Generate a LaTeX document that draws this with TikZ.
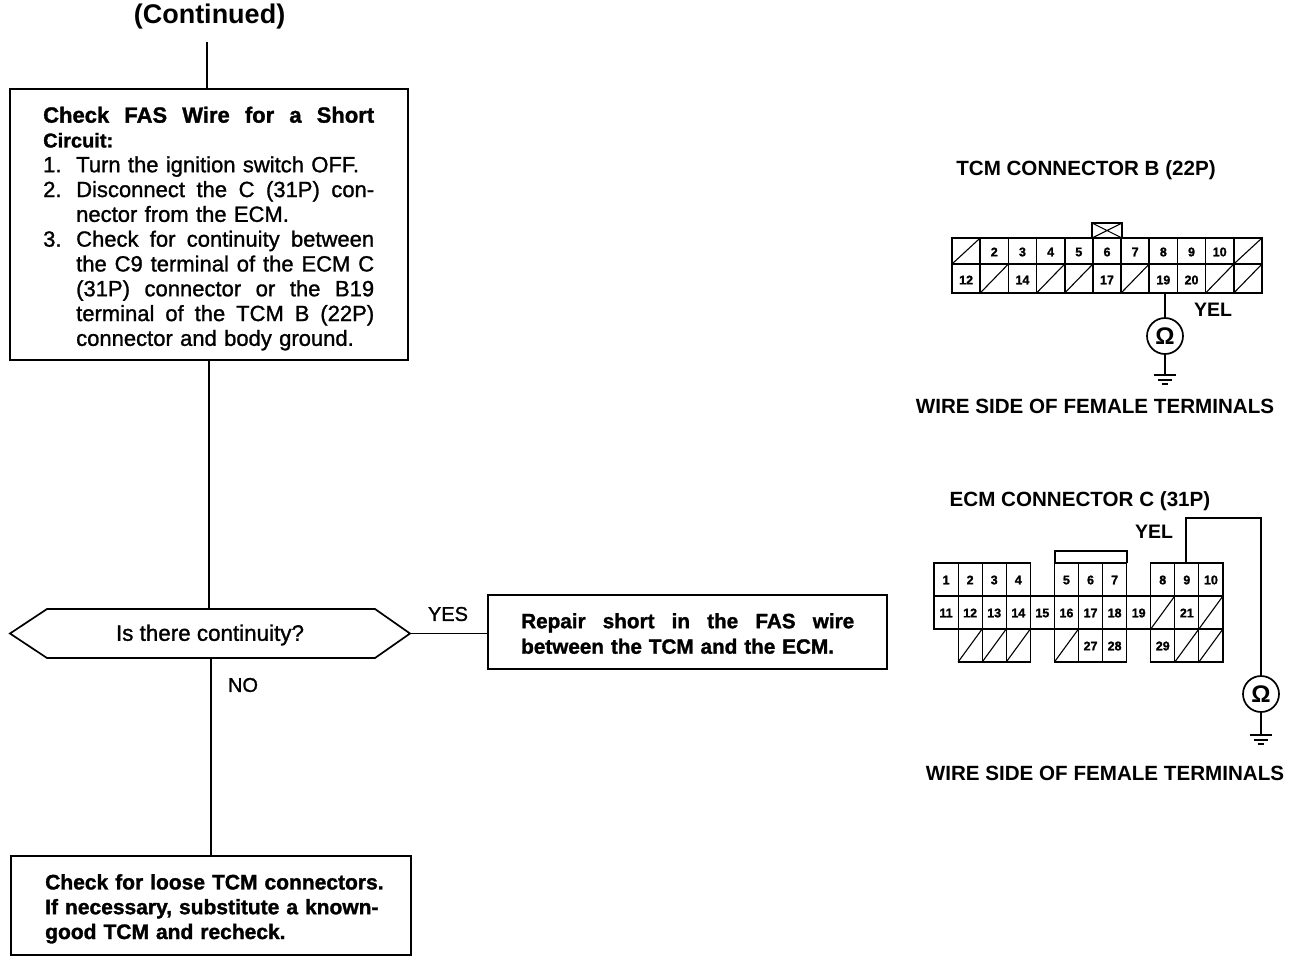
\documentclass[tikz,border=0pt]{standalone}
\usepackage{fontspec}
\setmainfont{Liberation Sans}
\newfontfamily\midf[FakeBold=1.2]{Liberation Sans}
\newfontfamily\hvy[FakeBold=1.4]{Liberation Sans Bold}
\newcommand\jl[1]{\leavevmode\hbox to 331pt{#1}}
\newcommand\il[2]{\leavevmode\hbox to 33pt{#1\hss}\hbox to 298pt{#2}}
\newcommand\ir[2]{\leavevmode\hbox to 33pt{#1\hss}#2}
\usetikzlibrary{calc}
\tikzset{
  x=1pt,y=-1pt,
  ln/.style={line width=1.7pt,black},
  thin cell/.style={line width=1.1pt,black},
  bx/.style={draw,line width=1.7pt,inner sep=0pt,align=left,anchor=center},
  lab/.style={font=\fontsize{20.6}{20.6}\selectfont\bfseries,inner sep=0pt},
  yl/.style={font=\fontsize{19.5}{19.5}\selectfont\bfseries,inner sep=0pt},
  num/.style={font=\fontsize{12.5}{12.5}\selectfont\hvy,inner sep=0pt},
  meter/.style={circle,draw,line width=1.7pt,minimum size=36pt,inner sep=0pt,font=\fontsize{24}{24}\selectfont\bfseries},
}
\newcommand\gnd[1]{%
  \draw[ln] ($(#1)+(-11,0)$) -- ($(#1)+(11,0)$);
  \draw[ln] ($(#1)+(-7,5)$) -- ($(#1)+(7,5)$);
  \draw[ln] ($(#1)+(-3,9)$) -- ($(#1)+(3,9)$);}
\begin{document}
\begin{tikzpicture}
\useasboundingbox (0,0) rectangle (1296,962);
\fill[white] (0,0) rectangle (1296,962);
% flowchart
\node[inner sep=0pt,font=\fontsize{27}{27}\selectfont\bfseries] (cont) at (209.5,17) {(Continued)};
\node[bx,minimum width=398pt,minimum height=271pt] (box1) at (209,224.5) {};
\node[inner sep=0pt,anchor=north west,text width=331pt,align=left,font=\fontsize{22}{24.8}\selectfont] (box1t) at (43,106.5) {%
  \jl{\hvy Check\hfill FAS\hfill Wire\hfill for\hfill a\hfill Short}\\
  {\hvy\fontsize{20}{24.8}\selectfont Circuit:}\\
  \midf\ir{1.}{Turn the ignition switch OFF.}\\
  \midf\il{2.}{Disconnect\hfill the\hfill C\hfill (31P)\hfill con-}\\
  \midf\ir{}{nector from the ECM.}\\
  \midf\il{3.}{Check\hfill for\hfill continuity\hfill between}\\
  \midf\il{}{the\hfill C9\hfill terminal\hfill of\hfill the\hfill ECM\hfill C}\\
  \midf\il{}{(31P)\hfill connector\hfill or\hfill the\hfill B19}\\
  \midf\il{}{terminal\hfill of\hfill the\hfill TCM\hfill B\hfill (22P)}\\
  \midf\ir{}{connector and body ground.}};
\coordinate (hl) at (10,633.5);
\coordinate (hr) at (410,633.5);
\coordinate (htop) at (209,609);
\coordinate (hbot) at (211,658);
\draw[ln,line join=miter] (hl) -- (47,609) -- (375,609) -- (hr) -- (375,658) -- (47,658) -- cycle;
\node[inner sep=0pt,font=\fontsize{22.4}{22.4}\selectfont\midf] (hex) at (210,635) {Is there continuity?};
\node[bx,minimum width=399pt,minimum height=74pt] (box2) at (687.5,632) {};
\node[inner sep=0pt,anchor=north west,text width=340pt,align=left,font=\fontsize{20.7}{25.5}\selectfont\hvy] (box2t) at (521,613) {%
  \leavevmode\hbox to 333pt{Repair\hfill short\hfill in\hfill the\hfill FAS\hfill wire}\\
  between the TCM and the ECM.};
\node[bx,minimum width=400pt,minimum height=99pt] (box3) at (211,905.5) {};
\node[inner sep=0pt,anchor=north west,text width=345pt,align=left,font=\fontsize{21}{24.8}\selectfont\hvy] (box3t) at (45,874) {%
  Check for loose TCM connectors.\\
  If necessary, substitute a known-\\
  good TCM and recheck.};
\coordinate (cb) at (207,42);
\draw[ln] (cb) -- (cb |- box1.north);
\draw[ln] (box1.south) -- (htop);
\draw[ln] (hr) -- (box2.west |- hr);
\draw[ln] (hbot) -- (box3.north);
\node[inner sep=0pt,font=\fontsize{20}{20}\selectfont\midf] (yes) at (448,614) {YES};
\node[inner sep=0pt,font=\fontsize{20}{20}\selectfont\midf] (no) at (243,685) {NO};
% TCM connector
\node[lab] (t1) at (1086,170) {TCM CONNECTOR B (22P)};
\node[lab] (t2) at (1095,406) {WIRE SIDE OF FEMALE TERMINALS};
\draw[ln] (952,238) rectangle (1262,293);
\draw[ln] (952,264) -- (1262,264);
\foreach \i in {1,...,10} \draw[ln] ({952+\i*28.18},238) -- ({952+\i*28.18},293);
\foreach \c in {0,10} \draw[thin cell] ({952+\c*28.18},264) -- ({952+\c*28.18+28.18},238);
\foreach \c in {1,3,4,6,9,10} \draw[thin cell] ({952+\c*28.18},293) -- ({952+\c*28.18+28.18},264);
\foreach \c/\n in {1/2,2/3,3/4,4/5,5/6,6/7,7/8,8/9,9/10}
  \node[num] (b\n) at ({952+\c*28.18+14.09},252) {\n};
\foreach \c/\n in {0/12,2/14,5/17,7/19,8/20}
  \node[num] (b\n) at ({952+\c*28.18+14.09},280) {\n};
\draw[ln] (1092,238) -- (1092,223) -- (1122,223) -- (1122,238);
\draw[thin cell] (1092,223) -- (1122,238) (1092,238) -- (1122,223);
\node[yl] (yel1) at (1213,310) {YEL};
\node[meter] (m1) at (1165,336) {Ω};
\coordinate (g1) at (1165,375);
\coordinate (w1) at (1165,293);
\draw[ln] (w1) -- (m1.north);
\draw[ln] (m1.south) -- (g1);
\gnd{g1}
% ECM connector
\node[lab] (t3) at (1080,501) {ECM CONNECTOR C (31P)};
\node[yl] (yel2) at (1154,532) {YEL};
\node[lab] (t4) at (1105,773) {WIRE SIDE OF FEMALE TERMINALS};
\def\cw{24.08}
\foreach \c in {0,1,2,3,5,6,7,9,10,11}
  \draw[thin cell] ({934+\c*\cw},563) rectangle ({934+\c*\cw+\cw},596);
\foreach \c in {0,...,11}
  \draw[thin cell] ({934+\c*\cw},596) rectangle ({934+\c*\cw+\cw},629);
\foreach \c in {1,2,3,5,6,7,9,10,11}
  \draw[thin cell] ({934+\c*\cw},629) rectangle ({934+\c*\cw+\cw},662);
\draw[ln] (934,596) -- (1223,596) (934,629) -- (1223,629);
\draw[ln] (934,563) -- (1031,563) (1055,563) -- (1127,563) (1151,563) -- (1223,563);
\draw[ln] (1055,563) -- (1055,551) -- (1127,551) -- (1127,563);
\foreach \c in {1,2,3,5,10,11} \draw[thin cell] ({934+\c*\cw},662) -- ({934+\c*\cw+\cw},629);
\foreach \c in {9,11} \draw[thin cell] ({934+\c*\cw},629) -- ({934+\c*\cw+\cw},596);
\foreach \c/\n in {0/1,1/2,2/3,3/4,5/5,6/6,7/7,9/8,10/9,11/10}
  \node[num] (c\n) at ({934+\c*\cw+\cw/2},580) {\n};
\foreach \c/\n in {0/11,1/12,2/13,3/14,4/15,5/16,6/17,7/18,8/19,10/21}
  \node[num] (c\n) at ({934+\c*\cw+\cw/2},613) {\n};
\foreach \c/\n in {6/27,7/28,9/29}
  \node[num] (c\n) at ({934+\c*\cw+\cw/2},646) {\n};
\node[meter] (m2) at (1261,694) {Ω};
\coordinate (w2) at (1186,563);
\coordinate (g2) at (1261,735);
\draw[ln] (w2) -- (1186,518) -- (1261,518) -- (m2.north);
\draw[ln] (m2.south) -- (g2);
\gnd{g2}
\end{tikzpicture}
\end{document}
